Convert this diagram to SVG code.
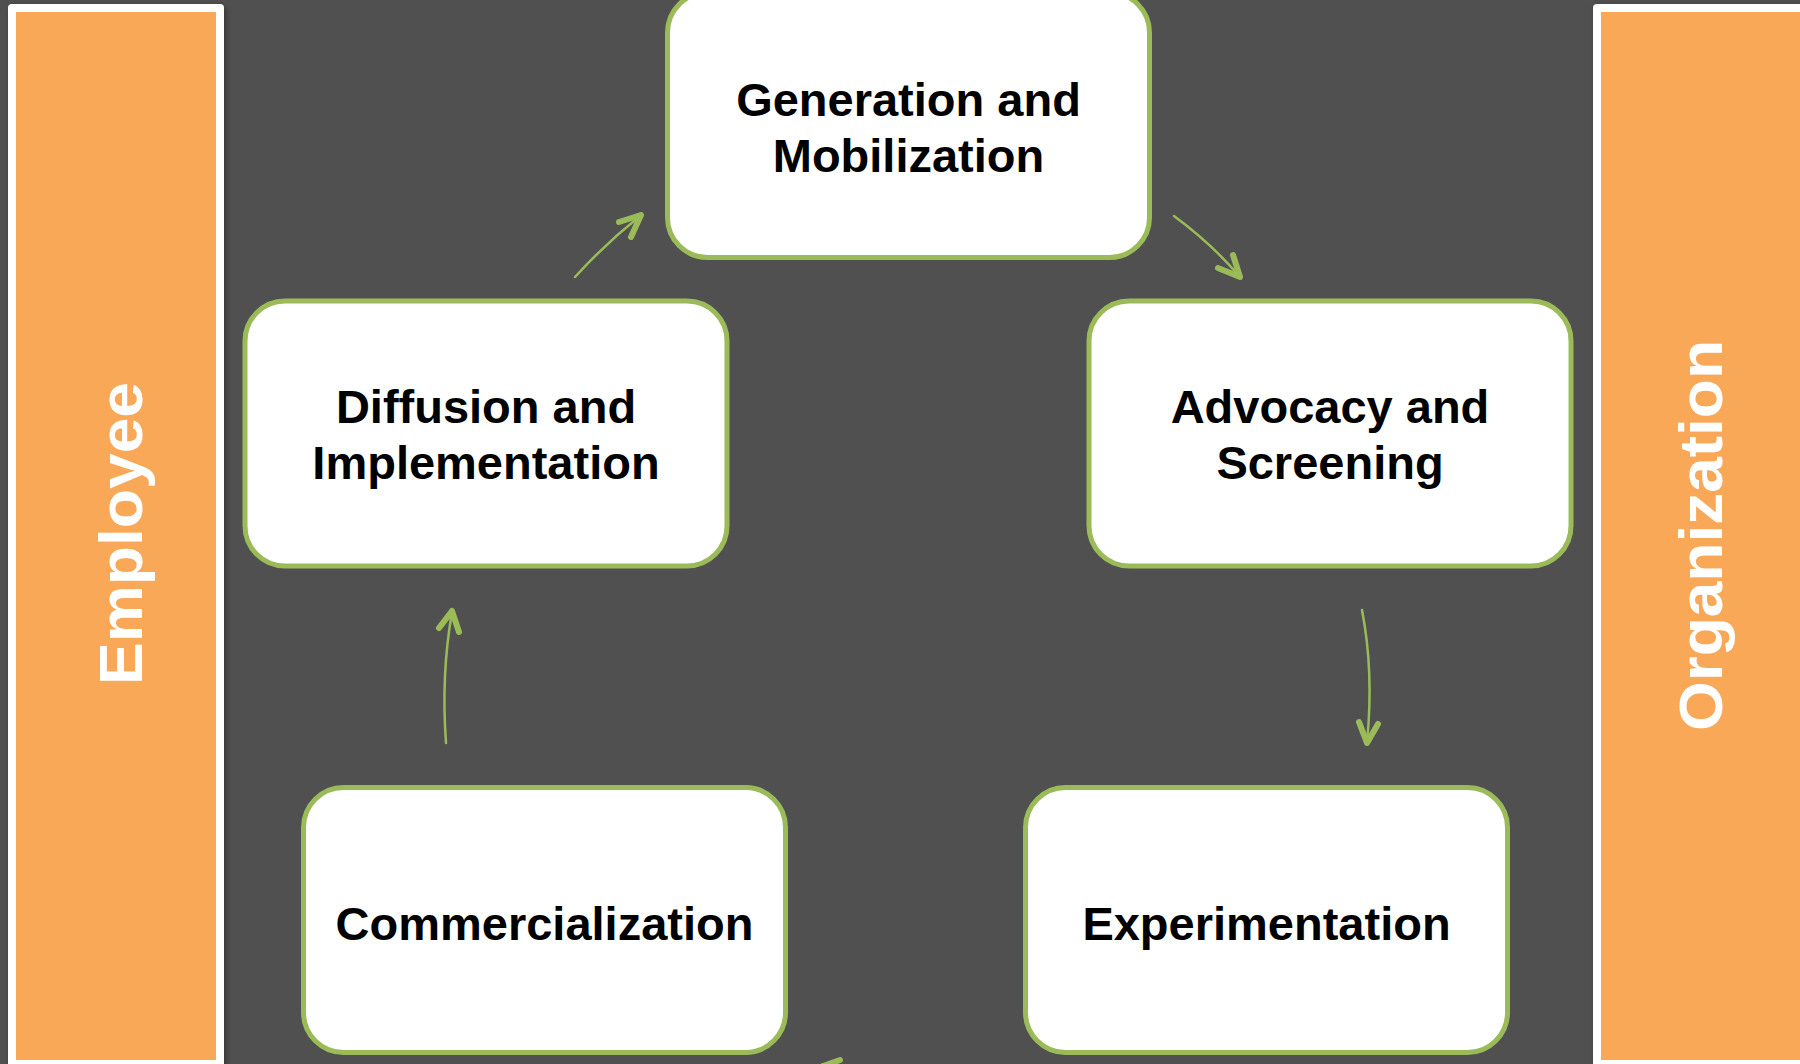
<svg xmlns="http://www.w3.org/2000/svg" width="1800" height="1064" viewBox="0 0 1800 1064">
  <style>
    .frame { fill: #ffffff; }
    .band { fill: #F9A857; }
    .box { fill: #ffffff; stroke: #9BBB59; stroke-width: 5; }
    .label { font-family: "Liberation Sans", Arial, sans-serif; font-weight: bold; font-size: 47px; fill: #000000; text-anchor: middle; }
    .side { font-family: "Liberation Sans", Arial, sans-serif; font-weight: bold; font-size: 62px; fill: #ffffff; text-anchor: middle; }
    .shaft { fill: none; stroke: #9BBB59; stroke-width: 2.5; stroke-linecap: round; }
    .head { fill: none; stroke: #9BBB59; stroke-width: 6; stroke-linecap: round; stroke-linejoin: round; }
  </style>
  <defs>
    <filter id="shadow" x="-10%" y="-5%" width="120%" height="110%">
      <feDropShadow dx="2" dy="2" stdDeviation="3" flood-color="#000000" flood-opacity="0.35"/>
    </filter>
  </defs>
  <rect x="0" y="0" width="1800" height="1064" fill="#505050"/>

  <g id="employee">
    <rect class="frame" x="8" y="4" width="216" height="1070" rx="4" filter="url(#shadow)"/>
    <rect class="band" x="16" y="12" width="200" height="1048"/>
    <text class="side" transform="translate(142,533.5) rotate(-90)" x="0" y="0" textLength="303" lengthAdjust="spacingAndGlyphs">Employee</text>
  </g>

  <g id="organization">
    <rect class="frame" x="1593" y="4" width="220" height="1070" rx="4" filter="url(#shadow)"/>
    <rect class="band" x="1601" y="12" width="210" height="1048"/>
    <text class="side" transform="translate(1722,535.5) rotate(-90)" x="0" y="0" textLength="391" lengthAdjust="spacingAndGlyphs">Organization</text>
  </g>

  <g id="generation">
    <rect class="box" x="667.5" y="-7.5" width="482" height="265" rx="40"/>
    <text class="label" x="908.5" y="116">Generation and</text>
    <text class="label" x="908.5" y="172">Mobilization</text>
  </g>

  <g id="advocacy">
    <rect class="box" x="1089" y="301" width="482" height="265" rx="40"/>
    <text class="label" x="1330" y="423">Advocacy and</text>
    <text class="label" x="1330" y="479">Screening</text>
  </g>

  <g id="diffusion">
    <rect class="box" x="245" y="301" width="482" height="265" rx="40"/>
    <text class="label" x="486" y="423">Diffusion and</text>
    <text class="label" x="486" y="479">Implementation</text>
  </g>

  <g id="commercialization">
    <rect class="box" x="303.5" y="787.5" width="482" height="265" rx="40"/>
    <text class="label" x="544.5" y="940">Commercialization</text>
  </g>

  <g id="experimentation">
    <rect class="box" x="1025.5" y="787.5" width="482" height="265" rx="40"/>
    <text class="label" x="1266.5" y="940">Experimentation</text>
  </g>

  <g id="connectors">
    <path class="shaft" d="M575,277 Q605,244 640,216"/>
    <polyline class="head" points="619,222 641,215 631,237"/>

    <path class="shaft" d="M1174,216 Q1212,244 1239,276"/>
    <polyline class="head" points="1218,268 1240,277 1233,255"/>

    <path class="shaft" d="M1362,610 Q1374,672 1367,742"/>
    <polyline class="head" points="1359,722 1367,743 1378,724"/>

    <path class="shaft" d="M446,743 Q441,675 452,612"/>
    <polyline class="head" points="439,628 452,611 459,632"/>

    <polyline class="head" points="840,1060 823,1066 838,1080"/>
  </g>
</svg>
